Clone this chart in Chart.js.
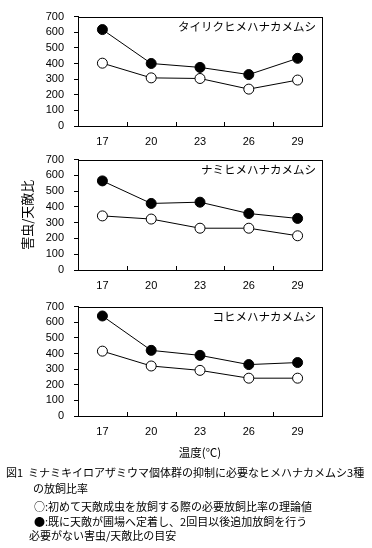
<!DOCTYPE html>
<html>
<head>
<meta charset="utf-8">
<script src="https://cdn.jsdelivr.net/npm/chart.js@4"></script>
<style>
  body { margin: 0; background: #fff; width: 372px; height: 548px; overflow: hidden; position: relative; }
  .panel { position: absolute; left: 0; width: 372px; }
  .cap { position: absolute; font-family: "Noto Sans CJK JP", sans-serif; font-size: 11px; color: #000; white-space: nowrap; line-height: 14px; }
</style>
</head>
<body>
<div class="panel" style="top:0;height:150px"><canvas id="c1"></canvas></div>
<div class="panel" style="top:143px;height:151px"><canvas id="c2"></canvas></div>
<div class="panel" style="top:290px;height:172px"><canvas id="c3"></canvas></div>

<div class="cap" style="left:6px;top:465px">図1&nbsp;&nbsp;ミナミキイロアザミウマ個体群の抑制に必要なヒメハナカメムシ3種</div>
<div class="cap" style="left:33px;top:481px">の放飼比率</div>
<div class="cap" style="left:34px;top:499px">○:初めて天敵成虫を放飼する際の必要放飼比率の理論値</div>
<div class="cap" style="left:34px;top:514px">●:既に天敵が圃場へ定着し、2回目以後追加放飼を行う</div>
<div class="cap" style="left:29px;top:528px">必要がない害虫/天敵比の目安</div>

<script>
// temperatures (℃)
const temps = ['17', '20', '23', '26', '29'];

// ○ theoretical release ratio, ● guide ratio
const tairikuTheory = [402, 308, 304, 236, 294];
const tairikuGuide = [617, 400, 375, 329, 433];
const namiTheory = [343, 323, 265, 265, 217];
const namiGuide = [565, 422, 430, 358, 327];
const kohimeTheory = [415, 320, 292, 242, 242];
const kohimeGuide = [640, 420, 388, 329, 342];

const speciesNames = ['タイリクヒメハナカメムシ', 'ナミヒメハナカメムシ', 'コヒメハナカメムシ'];

const tickFont = { family: '"Liberation Sans", Arial, sans-serif', size: 11 };

// frame, inward x ticks and species label
const framePlugin = {
    id: 'frame',
    afterDraw(chart, args, opts) {
        const ctx = chart.ctx;
        const a = chart.chartArea;
        const xs = chart.scales.x;
        ctx.save();
        ctx.strokeStyle = '#000';
        ctx.lineWidth = 1;
        ctx.strokeRect(Math.round(a.left) + 0.5, Math.round(a.top) + 0.5,
            Math.round(a.right - a.left), Math.round(a.bottom - a.top));
        ctx.beginPath();
        for (let i = 1; i < temps.length; i++) {
            const x = Math.round((xs.getPixelForTick(i - 1) + xs.getPixelForTick(i)) / 2) + 0.5;
            ctx.moveTo(x, a.bottom);
            ctx.lineTo(x, a.bottom - 4);
        }
        ctx.stroke();
        ctx.fillStyle = '#000';
        ctx.font = '11.5px "Noto Sans CJK JP", sans-serif';
        ctx.textAlign = 'right';
        ctx.textBaseline = 'middle';
        ctx.fillText(opts.label, a.right - 6, a.top + 10);
        ctx.restore();
    }
};

function makeChart(id, label, theory, guide, showYTitle, showXTitle, xHeight) {
    const ctx = document.getElementById(id).getContext('2d');
    return new Chart(ctx, {
        type: 'line',
        data: {
            labels: temps,
            datasets: [
                {
                    label: '理論値',
                    data: theory,
                    borderColor: '#000',
                    borderWidth: 1,
                    backgroundColor: '#fff',
                    pointRadius: 5,
                    pointBorderWidth: 1,
                    pointBackgroundColor: '#fff',
                    pointBorderColor: '#000'
                },
                {
                    label: '目安',
                    data: guide,
                    borderColor: '#000',
                    borderWidth: 1,
                    backgroundColor: '#000',
                    pointRadius: 5,
                    pointBorderWidth: 1,
                    pointBackgroundColor: '#000',
                    pointBorderColor: '#000'
                }
            ]
        },
        options: {
            responsive: true,
            maintainAspectRatio: false,
            animation: false,
            layout: { padding: { top: 14, right: 50, left: 0, bottom: 0 } },
            plugins: {
                legend: { display: false },
                tooltip: { enabled: false },
                frame: { label: label }
            },
            scales: {
                x: {
                    offset: true,
                    grid: { display: false, drawTicks: false },
                    border: { display: false },
                    ticks: { color: '#000', font: tickFont, padding: 9, maxRotation: 0 },
                    title: {
                        display: showXTitle,
                        text: '温度(℃)',
                        color: '#000',
                        font: { family: '"Noto Sans CJK JP", sans-serif', size: 11.5 },
                        padding: { top: 0, bottom: 2 }
                    },
                    afterFit(scale) { scale.height = xHeight; }
                },
                y: {
                    min: 0,
                    max: 700,
                    grid: { drawOnChartArea: false, drawTicks: true, tickLength: 4, color: '#000' },
                    border: { display: true, color: '#000' },
                    ticks: { stepSize: 100, autoSkip: false, color: '#000', font: tickFont, padding: 10 },
                    title: {
                        display: showYTitle,
                        text: '害虫/天敵比',
                        color: '#000',
                        font: { family: '"Noto Sans CJK JP", sans-serif', size: 13 },
                        padding: { top: 19, bottom: 0 }
                    },
                    afterFit(scale) { scale.width = 78; }
                }
            }
        },
        plugins: [framePlugin]
    });
}

makeChart('c1', speciesNames[0], tairikuTheory, tairikuGuide, false, false, 24);
makeChart('c2', speciesNames[1], namiTheory, namiGuide, true, false, 24);
makeChart('c3', speciesNames[2], kohimeTheory, kohimeGuide, false, true, 46);
</script>
</body>
</html>
